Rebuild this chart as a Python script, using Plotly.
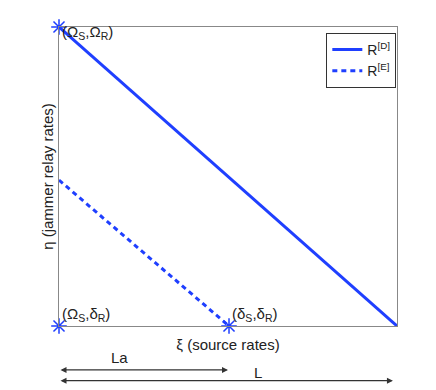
import plotly.graph_objects as go

# normalised rate region (xi on x, eta on y)
xi_d = [0.0, 1.0]
eta_d = [1.0, 0.0]
xi_e = [0.0, 0.503]
eta_e = [0.488, 0.0]
corner_x = [0.0, 0.0, 0.503]
corner_y = [1.0, 0.0, 0.0]
corner_labels = ["(Ω<sub>S</sub>,Ω<sub>R</sub>)", "(Ω<sub>S</sub>,δ<sub>R</sub>)",
                 "(δ<sub>S</sub>,δ<sub>R</sub>)"]
len_la = 0.5
len_l = 0.988

blue = "#1f3fff"
font = dict(family="Liberation Sans, Arial, sans-serif", size=15, color="#222")

fig = go.Figure()
fig.add_trace(go.Scatter(x=xi_d, y=eta_d, mode="lines", name="R<sup>[D]</sup>",
                         line=dict(color=blue, width=3)))
fig.add_trace(go.Scatter(x=xi_e, y=eta_e, mode="lines", name="R<sup>[E]</sup>",
                         line=dict(color=blue, width=3, dash="5px,4px")))
fig.add_trace(go.Scatter(x=corner_x, y=corner_y, mode="markers", showlegend=False,
                         marker=dict(symbol="asterisk-open", size=13, color=blue,
                                     line=dict(color=blue, width=1.5)),
                         cliponaxis=False))

for x, y, t in zip(corner_x, corner_y, corner_labels):
    fig.add_annotation(x=x, y=y, text=t, showarrow=False, xanchor="left",
                       yanchor="bottom" if y < 0.5 else "middle",
                       xshift=1, yshift=0 if y < 0.5 else -5, font=font)

# length arrows under the axis
fig.add_annotation(x=len_la, y=-0.147, xref="x", yref="paper", ax=0, ay=0,
                   axref="x", ayref="pixel", showarrow=True, arrowhead=2,
                   arrowside="end+start", arrowsize=1, arrowwidth=1.2,
                   arrowcolor="#333", text="")
fig.add_annotation(x=len_l, y=-0.183, xref="x", yref="paper", ax=0, ay=0,
                   axref="x", ayref="pixel", showarrow=True, arrowhead=2,
                   arrowside="end+start", arrowsize=1, arrowwidth=1.2,
                   arrowcolor="#333", text="")
fig.add_annotation(x=0.18, y=-0.141, xref="x", yref="paper", text="La",
                   showarrow=False, font=font)
fig.add_annotation(x=0.589, y=-0.189, xref="x", yref="paper", text="L",
                   showarrow=False, font=font)

fig.update_xaxes(range=[0, 1], showticklabels=False, ticks="", showgrid=False,
                 zeroline=False, showline=True, linecolor="#888", mirror=True,
                 automargin=False,
                 title=dict(text="ξ (source rates)", standoff=13, font=font))
fig.update_yaxes(range=[0, 1], showticklabels=False, ticks="", showgrid=False,
                 zeroline=False, showline=True, linecolor="#888", mirror=True,
                 automargin=False,
                 title=dict(text="η (jammer relay rates)", standoff=0, font=font))

# page body adds an 8px offset, so the figure is drawn 8px smaller
fig.update_layout(width=428, height=382, margin=dict(l=51, r=39, t=19, b=64),
                  plot_bgcolor="white", paper_bgcolor="white", font=font,
                  legend=dict(x=0.998, y=0.98, xanchor="right", yanchor="top",
                              bordercolor="#333", borderwidth=1, bgcolor="white",
                              font=dict(family=font["family"], size=14, color="#222"),
                              tracegroupgap=0, itemwidth=30))

fig.write_html("out.html")
